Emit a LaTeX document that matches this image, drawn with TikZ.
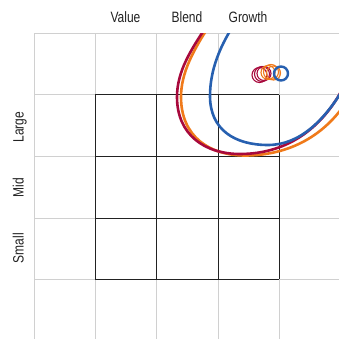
\documentclass[tikz,border=0pt]{standalone}
\usepackage{fontspec}
\setmainfont[FakeStretch=0.8]{Liberation Sans}
\definecolor{gridgray}{HTML}{D0D0D0}
\definecolor{boxblack}{HTML}{222222}
\definecolor{txt}{HTML}{222222}
\definecolor{cred}{HTML}{A8093C}
\definecolor{corange}{HTML}{F07A1A}
\definecolor{cblue}{HTML}{2760B0}
\tikzset{
  gridline/.style={draw=gridgray, line width=1pt},
  boxline/.style={draw=boxblack, line width=1pt},
  lbl/.style={font=\fontsize{15}{15}\selectfont, text=txt, inner sep=0pt},
  bigcurve/.style={line width=2.6pt, line cap=round},
  ring/.style={line width=1.1pt},
}
\begin{document}
\begin{tikzpicture}[x=1pt,y=-1pt]
\useasboundingbox (0,0) rectangle (339,339);
\fill[white] (0,0) rectangle (339,339);
% gray grid
\foreach \v in {34,95,156,218,279}{
  \draw[gridline] (\v,34) -- (\v,339);
  \draw[gridline] (34,\v) -- (339,\v);
}
% black 3x3 grid
\foreach \v in {95,156,218,279}{
  \draw[boxline] (\v,95) -- (\v,279);
  \draw[boxline] (95,\v) -- (279,\v);
}
% labels
\node[lbl, anchor=base] (value) at (125.5,23) {Value};
\node[lbl, anchor=base] (blend) at (187,23) {Blend};
\node[lbl, anchor=base] (growth) at (248,23) {Growth};
\node[lbl, anchor=base, rotate=90] (large) at (23.5,127) {Large};
\node[lbl, anchor=base, rotate=90] (mid) at (23.5,187.5) {Mid};
\node[lbl, anchor=base, rotate=90] (small) at (23.5,248) {Small};
% curves
\begin{scope}
\clip (34,34) rectangle (339,339);
\draw[bigcurve, corange] (213,20) .. controls (193,50) and (181,73) .. (181,97)
  .. controls (181,137) and (210,155.5) .. (245,155.5)
  .. controls (290,155.5) and (325,135) .. (347,101);
\draw[bigcurve, cred] (211,20) .. controls (190,50) and (177,72) .. (177,97)
  .. controls (177,135) and (205,154) .. (240,154)
  .. controls (290,154) and (325,125) .. (345,84);
\draw[bigcurve, cblue] (237,20) .. controls (220,45) and (210,70) .. (210,96)
  .. controls (210,130) and (235,145) .. (268,145)
  .. controls (300,145) and (325,120) .. (345,86);
% small rings
\draw[ring, cred] (259.5,75) circle (7.5);
\draw[ring, cred] (262,74) circle (7.5);
\draw[ring, cred] (264,73.5) circle (7);
\draw[ring, corange] (268,72.5) circle (7);
\draw[ring, corange] (271,72) circle (7.5);
\draw[ring, corange] (273.5,73) circle (7);
\draw[line width=2.4pt, cblue] (281,73.5) circle (7);
\end{scope}
\end{tikzpicture}
\end{document}
